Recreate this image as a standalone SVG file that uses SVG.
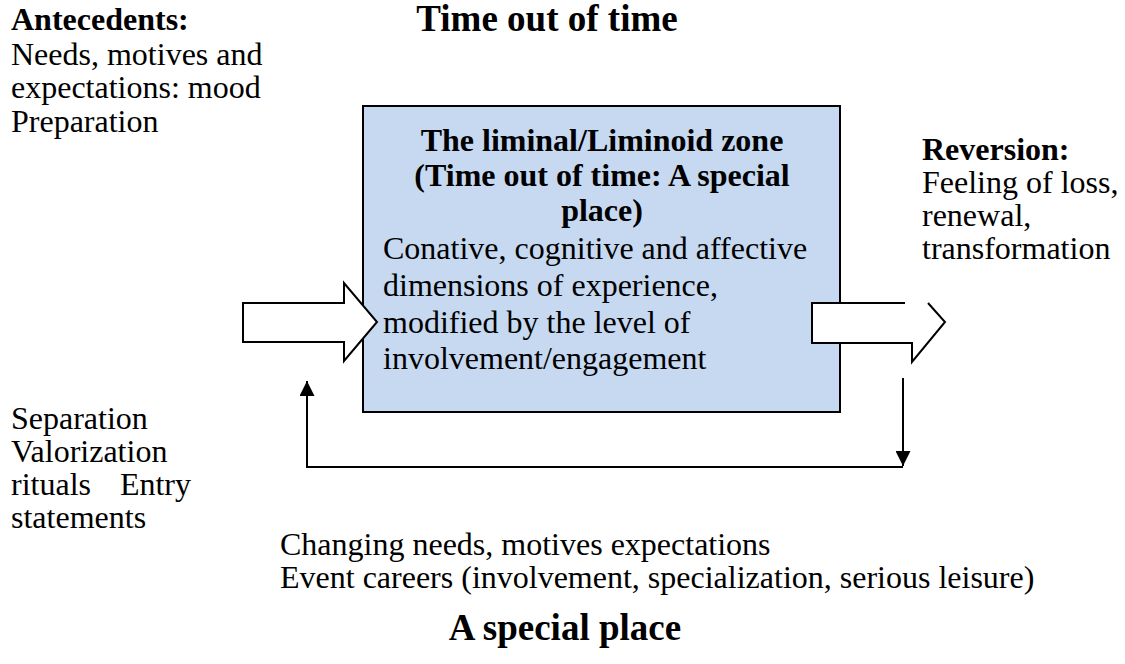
<svg xmlns="http://www.w3.org/2000/svg" width="1125" height="664" viewBox="0 0 1125 664">
  <style>
    .t { font-family: "Liberation Serif", "Times New Roman", serif; font-size: 32px; fill: #000; }
    .b { font-weight: bold; }
    .title { font-family: "Liberation Serif", "Times New Roman", serif; font-size: 37px; font-weight: bold; fill: #000; }
    .line { fill: none; stroke: #000; stroke-width: 2; }
    .block { fill: #fff; stroke: #000; stroke-width: 2; stroke-linejoin: miter; }
  </style>
  <defs>
    <marker id="tri" viewBox="0 0 16 15" refX="15" refY="7.5" markerWidth="16" markerHeight="15" markerUnits="userSpaceOnUse" orient="auto">
      <path d="M0,0 L15,7.5 L0,15 Z" fill="#000"/>
    </marker>
  </defs>

  <!-- headings -->
  <text class="title" x="547" y="31" text-anchor="middle">Time out of time</text>
  <text class="title" x="565" y="640" text-anchor="middle">A special place</text>

  <!-- antecedents -->
  <g id="antecedents">
    <text class="t b" x="11" y="30">Antecedents:</text>
    <text class="t" x="11" y="65">Needs, motives and</text>
    <text class="t" x="11" y="98">expectations: mood</text>
    <text class="t" x="11" y="132">Preparation</text>
  </g>

  <!-- central zone -->
  <g id="zone">
    <rect x="363" y="106" width="477" height="306" fill="#c6d9f1" stroke="#000" stroke-width="2"/>
    <text class="t b" x="602" y="151" text-anchor="middle">The liminal/Liminoid zone</text>
    <text class="t b" x="602" y="186" text-anchor="middle">(Time out of time: A special</text>
    <text class="t b" x="602" y="221" text-anchor="middle">place)</text>
    <text class="t" x="383" y="259">Conative, cognitive and affective</text>
    <text class="t" x="383" y="296">dimensions of experience,</text>
    <text class="t" x="383" y="333">modified by the level of</text>
    <text class="t" x="383" y="369">involvement/engagement</text>
  </g>

  <!-- reversion -->
  <g id="reversion">
    <text class="t b" x="922" y="160">Reversion:</text>
    <text class="t" x="922" y="193">Feeling of loss,</text>
    <text class="t" x="922" y="226">renewal,</text>
    <text class="t" x="922" y="259">transformation</text>
  </g>

  <!-- separation -->
  <g id="separation">
    <text class="t" x="11" y="429">Separation</text>
    <text class="t" x="11" y="462">Valorization</text>
    <text class="t" y="495"><tspan x="11">rituals</tspan><tspan x="191" text-anchor="end">Entry</tspan></text>
    <text class="t" x="11" y="528">statements</text>
  </g>

  <!-- careers -->
  <g id="careers">
    <text class="t" x="280" y="555">Changing needs, motives expectations</text>
    <text class="t" x="280" y="588">Event careers (involvement, specialization, serious leisure)</text>
  </g>

  <!-- connectors -->
  <g id="connectors">
    <!-- entry block arrow -->
    <path class="block" d="M243,303 H344 V283 L377,322 L344,361 V342 H243 Z"/>
    <!-- exit block arrow, upper shoulder of head left open -->
    <path d="M812,303 H928 L945,322 L912,362 V343 H812 Z" fill="#fff" stroke="none"/>
    <path class="line" d="M905,303 H812 V343 H912 V362 L945,322 L928,303"/>
    <!-- feedback loop -->
    <path class="line" d="M903,378 V466" marker-end="url(#tri)"/>
    <path class="line" d="M903,467 H307 V381" marker-end="url(#tri)"/>
  </g>
</svg>
